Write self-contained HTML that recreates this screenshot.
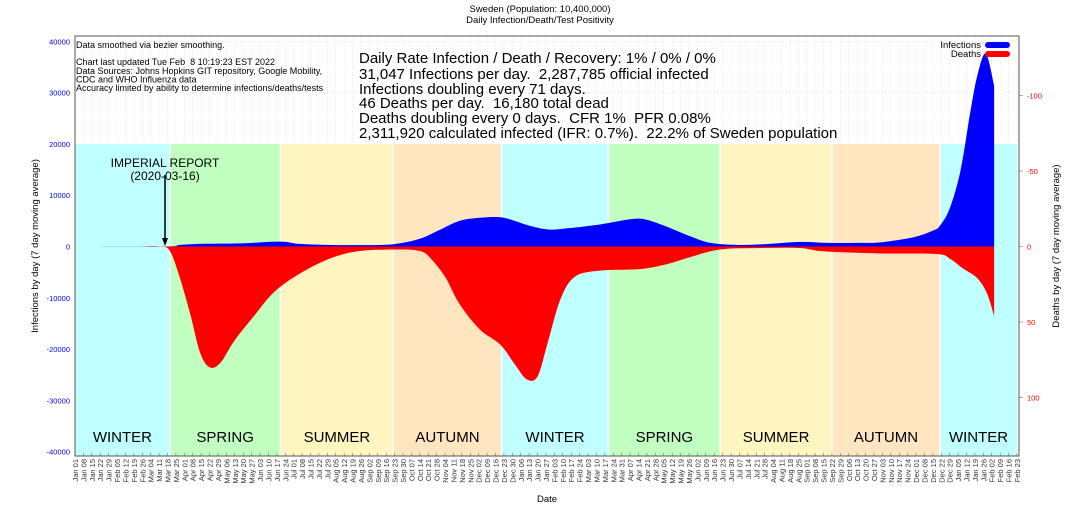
<!DOCTYPE html>
<html><head><meta charset="utf-8"><style>
body{margin:0;background:#fff;}
svg{display:block;font-family:"Liberation Sans",sans-serif;}
text{white-space:pre;}
</style></head><body>
<svg id="chart" width="1080" height="513" viewBox="0 0 1080 513">
<g id="bands"></g>
<g id="grid"></g>
<g id="series"></g>
<rect x="75" y="36" width="944" height="420" fill="none" stroke="#555" stroke-width="1"/>
<g id="axes"></g>
<text x="540" y="12" font-size="9.5" text-anchor="middle">Sweden (Population: 10,400,000)</text>
<text x="540" y="23" font-size="9.5" text-anchor="middle">Daily Infection/Death/Test Positivity</text>
<text transform="translate(38,246) rotate(-90)" font-size="9.5" text-anchor="middle">Infections by day (7 day moving average)</text>
<text transform="translate(1059,246) rotate(-90)" font-size="9.5" text-anchor="middle">Deaths by day (7 day moving average)</text>
<text x="547" y="502" font-size="9.5" text-anchor="middle">Date</text>
<g font-size="9">
<text x="76" y="48">Data smoothed via bezier smoothing.</text>
<text x="76" y="65">Chart last updated Tue Feb  8 10:19:23 EST 2022</text>
<text x="76" y="74">Data Sources: Johns Hopkins GIT repository, Google Mobility,</text>
<text x="76" y="82.5">CDC and WHO Influenza data</text>
<text x="76" y="91">Accuracy limited by ability to determine infections/deaths/tests</text>
</g>
<g font-size="15">
<text x="359" y="63">Daily Rate Infection / Death / Recovery: 1% / 0% / 0%</text>
<text x="359" y="79">31,047 Infections per day.  2,287,785 official infected</text>
<text x="359" y="94">Infections doubling every 71 days.</text>
<text x="359" y="108">46 Deaths per day.  16,180 total dead</text>
<text x="359" y="123">Deaths doubling every 0 days.  CFR 1%  PFR 0.08%</text>
<text x="359" y="138">2,311,920 calculated infected (IFR: 0.7%).  22.2% of Sweden population</text>
</g>
<g>
<text x="981" y="48" font-size="9.5" text-anchor="end">Infections</text>
<rect x="985" y="42" width="25" height="6" rx="3" fill="#0000ff"/>
<text x="981" y="57" font-size="9.5" text-anchor="end">Deaths</text>
<rect x="985" y="51" width="25" height="6" rx="3" fill="#ff0000"/>
</g>
<g>
<text x="165" y="167" font-size="12" text-anchor="middle">IMPERIAL REPORT</text>
<text x="165" y="180" font-size="12" text-anchor="middle">(2020-03-16)</text>
<line x1="165" y1="175" x2="165" y2="240" stroke="#000" stroke-width="1.5"/>
<polygon points="162,238 168,238 165,246" fill="#000"/>
</g>
</svg>
<script>
const infDays=[0,75,87,104,137,162,175,187,212,254,270,287,304,320,337,354,366,379,395,412,437,462,474,491,512,529,553,578,603,628,653,670,697,714,720,728,737,745,751,758,765];
const infVals=[0,0,300,500,600,900,900,500,300,300,600,1500,3300,5000,5600,5700,5000,4000,3300,3600,4300,5300,5300,4000,2000,700,300,500,900,700,700,800,1750,3100,4100,7400,14800,26000,33300,37600,31400];
const deathDays=[55,71,79,87,96,104,112,121,133,150,166,187,212,237,270,287,295,308,320,337,354,366,376,385,393,404,416,437,470,491,512,537,570,603,620,645,670,717,728,739,751,759,765];
const deathVals=[0,0,3,20,45,70,80,77,62,45,30,18,8,3,2,3,7,20,38,55,65,78,88,86,65,35,20,16,15,12,7,2,1,1,3,4,4.6,5,8,14.5,21,31,46];
const leftTicks=[40000,30000,20000,10000,0,-10000,-20000,-30000,-40000];
const rightTicks=[-100,-50,0,50,100];
const seasonNames=["WINTER","SPRING","SUMMER","AUTUMN","WINTER","SPRING","SUMMER","AUTUMN","WINTER"];
const seasonStarts=["2020-01-01","2020-03-20","2020-06-20","2020-09-22","2020-12-21","2021-03-20","2021-06-21","2021-09-22","2021-12-21","2022-02-23"];
const seasonColors={WINTER:"#c0ffff",SPRING:"#c0ffc0",SUMMER:"#fff5c0",AUTUMN:"#ffe5c0"};
const NS="http://www.w3.org/2000/svg";
const X0=75,PXD=1.2015,ZERO=246.5;
const t0=Date.UTC(2020,0,1);
function dayOf(s){const p=s.split("-");return (Date.UTC(+p[0],+p[1]-1,+p[2])-t0)/864e5;}
function xd(d){return X0+d*PXD;}
function yInf(v){return ZERO-v*0.00513;}
function yDeath(v){return ZERO+v*1.51;}
function mk(tag,attrs,parent){const e=document.createElementNS(NS,tag);for(const k in attrs)e.setAttribute(k,attrs[k]);parent.appendChild(e);return e;}
const bands=document.getElementById("bands"),grid=document.getElementById("grid"),series=document.getElementById("series"),axes=document.getElementById("axes");
for(let i=0;i<seasonNames.length;i++){
 const a=xd(dayOf(seasonStarts[i])),b=Math.min(xd(dayOf(seasonStarts[i+1])),1019);
 const r=mk("rect",{x:a,y:yInf(20000),width:b-a,height:456-yInf(20000),fill:seasonColors[seasonNames[i]]},bands);
 
 
 if(i>0){mk("line",{x1:a,x2:a,y1:yInf(20000),y2:456,stroke:"#fff","stroke-width":1.5},bands);}
 const t=mk("text",{x:(a+b)/2,y:442,"font-size":15,"text-anchor":"middle"},bands);
 t.textContent=seasonNames[i];
 
 
}
const mon=["Jan","Feb","Mar","Apr","May","Jun","Jul","Aug","Sep","Oct","Nov","Dec"];
for(let d=0;d<=784;d+=7){
 const x=xd(d);
 mk("line",{x1:x,x2:x,y1:36,y2:yInf(20000),stroke:"#ccc","stroke-width":0.5,"stroke-dasharray":"1,2"},grid);
 mk("line",{x1:x,x2:x,y1:456,y2:453,stroke:"#555","stroke-width":0.5},axes);
 const dt=new Date(t0+d*864e5);
 const lab=mon[dt.getUTCMonth()]+" "+String(dt.getUTCDate()).padStart(2,"0");
 const t=mk("text",{transform:`translate(${x+3},459) rotate(-90)`,"font-size":7.5,"text-anchor":"end",fill:"#333"},axes);
 t.textContent=lab;
 
 
}
for(const v of leftTicks){
 const y=yInf(v);
 if(v>20000)mk("line",{x1:75,x2:1019,y1:y,y2:y,stroke:"#ccc","stroke-width":0.5,"stroke-dasharray":"1,2"},grid);
 const t=mk("text",{x:70,y:y+3,"font-size":7.5,"text-anchor":"end",fill:"#0000ff"},axes);
 t.textContent=v;
 
 
}
for(const v of rightTicks){
 const y=yDeath(v);
 mk("line",{x1:1019,x2:1023,y1:y,y2:y,stroke:"#555","stroke-width":0.5},axes);
 const t=mk("text",{x:1027,y:y+3,"font-size":7.5,fill:"#ff0000"},axes);
 t.textContent=v;
 
 
}
function areaPath(days,vals,fy){
 const p=days.map((d,i)=>[xd(d),fy(vals[i])]);
 let s=`M${p[0][0]},${ZERO} L${p[0][0]},${p[0][1]}`;
 for(let i=0;i<p.length-1;i++){
  const a=p[Math.max(0,i-1)],b=p[i],c=p[i+1],e=p[Math.min(p.length-1,i+2)];
  const c1=[b[0]+(c[0]-a[0])/6,b[1]+(c[1]-a[1])/6],c2=[c[0]-(e[0]-b[0])/6,c[1]-(e[1]-b[1])/6];
  s+=` C${c1[0]},${c1[1]} ${c2[0]},${c2[1]} ${c[0]},${c[1]}`;
 }
 s+=` L${p[p.length-1][0]},${ZERO} Z`;
 return s;
}
const dp=mk("path",{d:areaPath(deathDays,deathVals,yDeath),fill:"#ff0000"},series);


const ip=mk("path",{d:areaPath(infDays,infVals,yInf),fill:"#0000ff"},series);


</script>
</body></html>
